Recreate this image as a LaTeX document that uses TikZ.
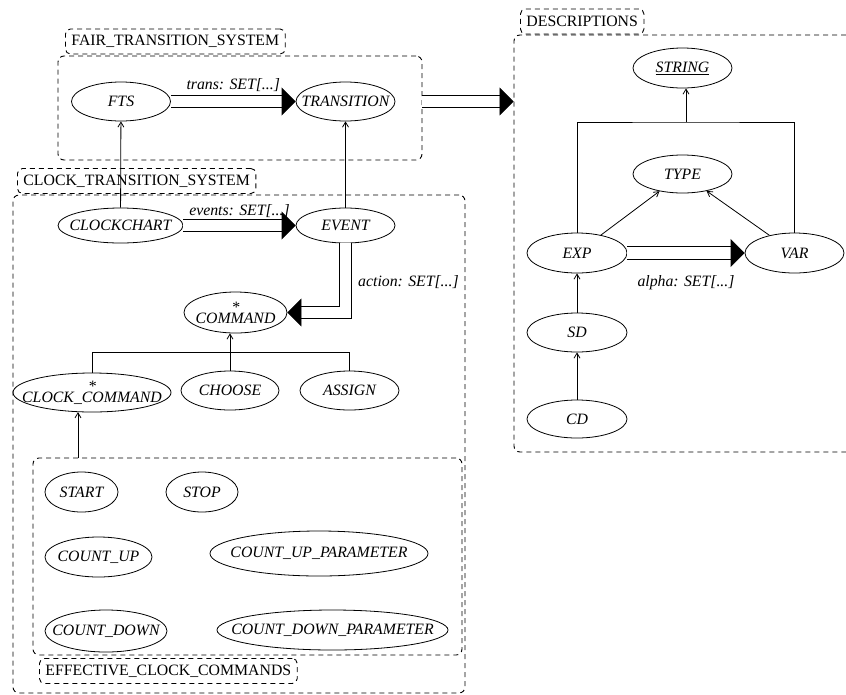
\documentclass[tikz,border=0pt]{standalone}
\usepackage{fontspec}
\setmainfont{Liberation Serif}
\usetikzlibrary{shapes.geometric,arrows.meta,positioning}

\newcommand{\cname}[1]{\makebox[0pt]{\itshape #1}}
\newcommand{\dname}[1]{\makebox[0pt]{\itshape\raisebox{11pt}{*}}\makebox[0pt]{\itshape #1}}

\begin{document}
\begin{tikzpicture}
  [x=1pt,y=-1pt,
   every node/.style={font=\fontsize{15.8}{18}\selectfont},
   cls/.style={ellipse,draw,line width=.8pt,inner sep=0pt,minimum width=99pt,minimum height=39pt},
   cluster/.style={draw,line width=.9pt,dash pattern=on 5pt off 4pt,rounded corners=6pt,inner sep=0pt},
   pkgname/.style={draw,line width=.9pt,dash pattern=on 5pt off 4pt,rounded corners=5pt,
                   inner xsep=6pt,inner ysep=0pt,minimum height=25pt,anchor=west},
   inh/.style={line width=.8pt,-{Straight Barb[length=5pt,width=6pt]}},
   client/.style={line width=.8pt,double,double distance=11.5pt,-{Triangle[length=14pt,width=28pt]}}]
  \useasboundingbox (0,0) rectangle (846,694);

  % clusters and their names
  \node[cluster,minimum width=364pt,minimum height=104pt] (ftsbox) at (240,108) {};
  \node[pkgname] (ftsname) at (65,41.5) {FAIR\_TRANSITION\_SYSTEM};
  \node[cluster,minimum width=452pt,minimum height=498pt] (clkbox) at (239,444) {};
  \node[pkgname] (clkname) at (17,181) {CLOCK\_TRANSITION\_SYSTEM};
  \node[cluster,minimum width=429pt,minimum height=197pt] (effbox) at (247.5,556.5) {};
  \node[pkgname] (effname) at (39,671) {EFFECTIVE\_CLOCK\_COMMANDS};
  \node[cluster,minimum width=338pt,minimum height=417pt] (descbox) at (683,243.5) {};
  \node[pkgname] (descname) at (520,21.5) {DESCRIPTIONS};

  % classes
  \node[cls] (fts) at (121,101.5) {\cname{FTS}};
  \node[cls] (trans) at (345.5,101.5) {\cname{TRANSITION}};
  \node[cls,minimum width=125pt,minimum height=35pt] (clock) at (120.5,225.5) {\cname{CLOCKCHART}};
  \node[cls,minimum height=35pt] (event) at (345.5,225.5) {\cname{EVENT}};
  \node[cls,minimum width=103pt,minimum height=41pt] (cmd) at (235.5,312.5) {\dname{COMMAND}};
  \node[cls,minimum width=158pt] (clkcmd) at (92,392.5) {\dname{CLOCK\_COMMAND}};
  \node[cls,minimum width=98pt] (choose) at (230,390.5) {\cname{CHOOSE}};
  \node[cls] (assign) at (349.5,390.5) {\cname{ASSIGN}};
  \node[cls,minimum width=73pt,minimum height=40pt] (start) at (81.5,492) {\cname{START}};
  \node[cls,minimum width=72pt,minimum height=40pt] (stop) at (202,492) {\cname{STOP}};
  \node[cls,minimum width=107pt,minimum height=40pt] (up) at (98.5,557) {\cname{COUNT\_UP}};
  \node[cls,minimum width=218pt,minimum height=45pt] (uppar) at (319,553.5) {\cname{COUNT\_UP\_PARAMETER}};
  \node[cls,minimum width=122pt,minimum height=42pt] (down) at (106,631) {\cname{COUNT\_DOWN}};
  \node[cls,minimum width=231pt,minimum height=40pt] (downpar) at (332.5,630) {\cname{COUNT\_DOWN\_PARAMETER}};
  \node[cls,minimum height=40pt] (string) at (682.5,68) {\cname{\underline{STRING}}};
  \node[cls,minimum height=38pt] (type) at (682.5,174) {\cname{TYPE}};
  \node[cls,minimum width=100pt,minimum height=40pt] (exp) at (577,253) {\cname{EXP}};
  \node[cls,minimum height=40pt] (var) at (794.5,253) {\cname{VAR}};
  \node[cls,minimum width=100pt] (sd) at (577,332.5) {\cname{SD}};
  \node[cls,minimum width=100pt,minimum height=38pt] (cd) at (577,419) {\cname{CD}};

  % client relations
  \draw[client] (fts) -- node[midway,yshift=16.5pt] {\itshape trans: SET[...]} (trans);
  \draw[client] (clock) -- node[midway,yshift=14pt] {\itshape events: SET[...]} (event);
  \draw[client] (event.south) |- node[pos=.28,anchor=west,xshift=9pt] {\itshape action: SET[...]} (cmd.east);
  \draw[client] (exp) -- node[midway,yshift=-29.5pt] {\itshape alpha: SET[...]} (var);
  \draw[client] (ftsbox.east |- fts) -- (descbox.west |- fts);

  % inheritance
  \foreach \from/\to in {clock/fts,event/trans,sd/exp,cd/sd,exp/type,var/type}
    \draw[inh] (\from) -- (\to);
  \coordinate (cmdbar) at (230,352.5);
  \draw[line width=.8pt] (clkcmd.north) |- (cmdbar) -| (assign.north);
  \draw[inh] (choose.north) -- (choose.north |- cmd.south);
  \draw[inh] ([xshift=-14pt]clkcmd.south |- effbox.north) -- ([xshift=-14pt,yshift=.3pt]clkcmd.south);
  \coordinate (strbar) at (686,122);
  \draw[line width=.8pt] (exp.north) |- (strbar) -| (var.north);
  \draw[inh] (strbar) -- (strbar |- string.south);
\end{tikzpicture}
\end{document}
